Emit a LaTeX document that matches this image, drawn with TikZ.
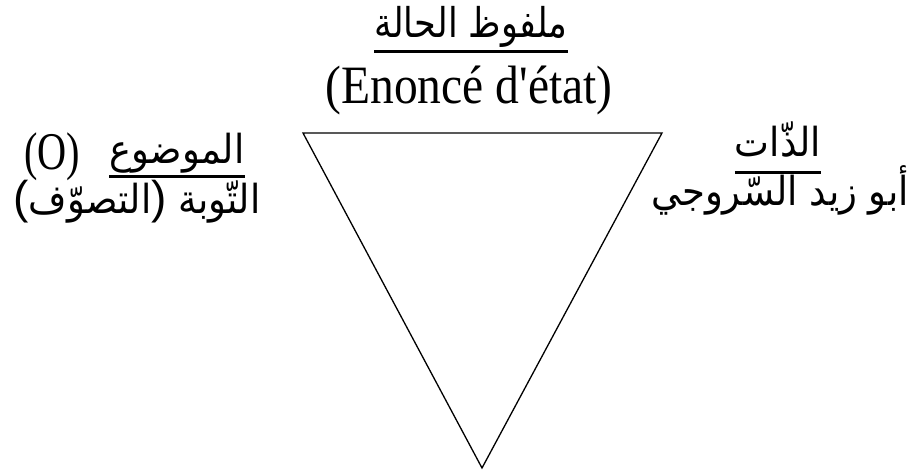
\documentclass[tikz,border=0pt]{standalone}
\usepackage{fontspec}
\newfontfamily\latfont[FakeStretch=0.88]{Liberation Serif}
\newfontfamily\latnarrow[FakeStretch=0.76]{Liberation Serif}
\newfontfamily\parfont{Liberation Sans}
\newfontfamily\arabicfont[Script=Arabic,FakeStretch=0.925]{DejaVu Sans}
\newfontfamily\arabictop[Script=Arabic,FakeStretch=0.855]{DejaVu Sans}
\TeXXeTstate=1
\begin{document}
\begin{tikzpicture}[x=1pt,y=-1pt,
  lat/.style={inner sep=0pt,anchor=base,font=\latfont\fontsize{54}{58}\selectfont},
  latsm/.style={inner sep=0pt,anchor=base,font=\latnarrow\fontsize{53}{56}\selectfont},
  arbig/.style={inner sep=0pt,anchor=base,font=\arabictop\fontsize{41}{44}\selectfont},
  ar/.style={inner sep=0pt,anchor=base,font=\arabicfont\fontsize{40}{43}\selectfont},
  ul/.style={line width=3pt},
  tri/.style={line width=1.3pt,line join=miter}]
\useasboundingbox (0,0) rectangle (915,473);
% triangle
\coordinate (A) at (303,133);
\coordinate (B) at (662,133);
\coordinate (C) at (482,468);
\draw[tri] (A) -- (B) -- (C) -- cycle;
% top
\node[arbig] (topar) at (471,38) {\beginR ملفوظ الحالة\endR};
\draw[ul] ([yshift=-14pt]topar.base west) -- ([yshift=-14pt]topar.base east);
\node[lat] (enonce) at (469,104) {(Enoncé d'état)};
% left
\node[latsm] (lo) at (52,170) {(O)};
\node[ar] (lar) at (177,164) {\beginR الموضوع\endR};
\draw[ul] ([yshift=-13pt]lar.base west) -- ([yshift=-13pt]lar.base east);
\node[ar] (left2) at (137,213) {{\parfont\fontsize{46}{48}\selectfont(}\beginR التصوّف\endR{\parfont\fontsize{46}{48}\selectfont)}\ \beginR التّوبة\endR};
% right
\node[ar] (rar) at (778,157) {\beginR الذّات\endR};
\draw[ul] ([yshift=-16pt]rar.base west) -- ([yshift=-16pt]rar.base east);
\node[ar] (right2) at (780,206) {\beginR أبو زيد السّروجي\endR};
\end{tikzpicture}
\end{document}
